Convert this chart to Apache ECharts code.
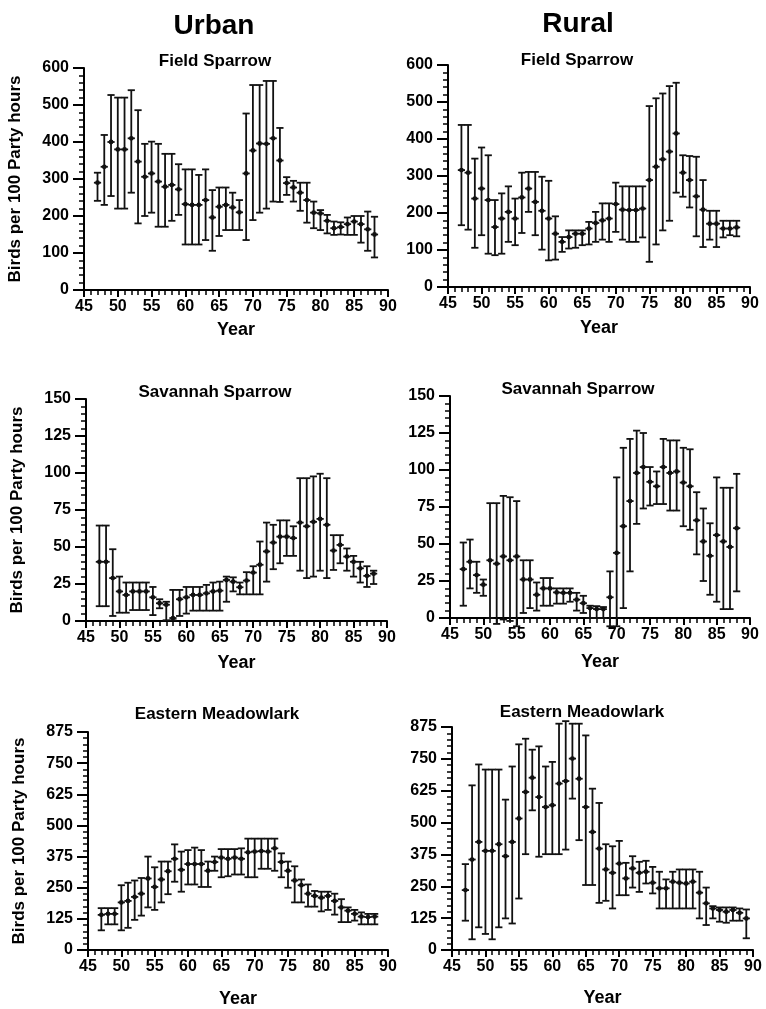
<!DOCTYPE html>
<html>
<head>
<meta charset="utf-8">
<script src="https://cdn.jsdelivr.net/npm/echarts@6/dist/echarts.min.js"></script>
<style>
html,body{margin:0;padding:0;background:#fff;}
#chart{width:766px;height:1009px;}
</style>
</head>
<body>
<div id="chart"></div>
<script>
// ---------- DATA ----------
const yearsA = [47,48,49,50,51,52,53,54,55,56,57,58,59,60,61,62,63,64,65,66,67,68,69,70,71,72,73,74,75,76,77,78,79,80,81,82,83,84,85,86,87,88];
const yearsB = [47,48,49,50,51,52,53,54,55,56,57,58,59,60,61,62,63,64,65,66,67,68,69,70,71,72,73,74,75,76,77,78,79,80,81,82,83,84,85,86,87,88,89];

// Urban Field Sparrow
const urbanFieldMean = [290,333,400,380,380,410,347,306,315,293,279,284,272,232,230,230,243,196,225,230,223,210,315,377,396,395,410,350,289,277,263,243,209,207,187,167,170,178,185,178,164,150];
const urbanFieldLow  = [241,230,254,220,220,263,180,200,209,171,171,187,203,123,123,123,135,106,146,162,162,162,135,189,209,220,239,238,257,239,214,182,167,162,153,149,150,149,149,128,106,88];
const urbanFieldHigh = [317,419,527,520,520,540,486,395,401,395,368,368,340,326,326,311,326,270,277,277,263,243,477,554,554,565,565,438,305,295,290,290,239,216,203,185,183,196,200,200,212,198];

// Rural Field Sparrow
const ruralFieldMean = [316,309,239,266,235,162,185,203,185,242,266,230,206,185,144,122,135,144,144,158,173,180,185,224,209,208,208,212,289,325,345,366,415,309,289,245,209,171,171,158,158,161];
const ruralFieldLow  = [167,155,106,140,90,86,90,122,113,146,203,140,101,72,74,95,104,106,113,115,122,128,122,149,128,122,122,134,68,115,153,179,255,244,215,137,108,128,108,134,140,137];
const ruralFieldHigh = [438,438,347,377,356,235,253,272,239,309,311,311,298,287,191,135,153,153,153,176,203,226,226,282,272,272,272,272,489,510,523,543,552,356,354,352,289,206,206,179,179,179];

// Urban Savannah Sparrow
const urbanSavMean = [40,40,29,20,17.6,20,20,20,16,12,11,2,14.7,16,17.6,17.6,18.7,20,20.5,27.7,26.6,22.8,27.3,32.7,38,47,53,57,57,56,66.5,64,67,69,65,47.6,51.4,43.5,40,35.6,30.5,32];
const urbanSavLow  = [10,10,3.4,5.6,5.6,7.4,7.4,7.4,4,8.6,0.5,0.5,3.4,5,7,7,7,7,7,13,20,18,18,18,18,26.6,35,39,44,44,34,29,30,34,29,34.5,39,34,30,26,23,25];
const urbanSavHigh = [64.5,64.5,48.5,30,26,26,26,26,23,14.7,13,21,21,23,23,23,24.4,26,26.6,30,29.5,26,33,37,53.7,66.5,65,68,68,64,96.5,96.5,97.7,99.5,96.5,58,58,49,44,40,37,34];

// Rural Savannah Sparrow
const ruralSavMean = [33,38,29,22.5,39,36.7,41.6,39,41.6,26,26,15.7,20,20,17.3,17,17,12.4,10,6.7,6,6,14,44,62,79,98,102,92,89,102,98,99,91.5,89,66,51.7,42,56,51.7,48,60.7];
const ruralSavLow  = [8.3,20,17,15,0,-4,-1,-2,-5.6,3.4,6.7,5,8.3,8.3,9.7,9.7,11,5,3.4,0,0,0,-5.6,-5.6,6.7,31.5,63.6,74,76,77,77,72.6,72.6,62,59.6,43,25,15.7,11,6,6,18];
const ruralSavHigh = [51,53,38,26,77.6,77.6,82.5,81.6,79,39,39,24,27,27,20,20,20,17,15,8.3,8,7.4,31.5,95,115,121,126.6,125,102,99,121,120,120,115,114,85,74,64,95,88,88,97.4];

// Urban Eastern Meadowlark
const urbanMeadowMean = [141,145,145,191,197,213,226,287,253,283,316,366,322,345,345,345,318,353,371,366,371,366,392,395,397,395,408,353,318,279,260,226,217,210,217,197,171,158,145,134,132,134];
const urbanMeadowLow  = [79,103,103,79,89,121,138,171,161,191,224,274,234,263,263,253,253,318,292,296,303,303,292,292,326,326,318,292,250,191,191,174,174,155,161,142,112,112,118,103,103,103];
const urbanMeadowHigh = [168,168,168,260,270,279,289,375,332,355,355,424,395,401,411,401,355,375,405,405,405,408,447,447,447,447,447,388,355,336,283,263,237,234,234,226,204,171,161,151,145,145];

// Rural Eastern Meadowlark
const ruralMeadowMean = [235,355,424,389,389,415,368,424,516,620,676,600,561,568,653,663,751,672,561,463,398,316,303,339,281,320,303,307,264,242,242,268,264,261,268,225,183,163,157,150,157,146,124];
const ruralMeadowLow  = [115,42,89,63,42,89,124,104,202,376,548,366,376,376,376,394,594,431,255,255,185,193,163,215,215,245,228,261,222,163,163,163,163,163,163,124,98,124,111,107,115,115,46];
const ruralMeadowHigh = [337,646,728,708,708,708,590,720,807,829,786,799,720,738,888,898,888,888,842,633,577,415,407,428,342,368,346,350,326,307,277,307,316,316,316,307,245,172,167,167,167,163,159];

// Tick / label settings
const xTicks = {min:45, max:90, step:5};
const fieldTicks = {max:600, step:100};
const savTicks = {max:150, step:25};
const meadowTicks = {max:875, step:125};

const columnTitles = ['Urban','Rural'];
const speciesTitles = ['Field Sparrow','Savannah Sparrow','Eastern Meadowlark'];
const yAxisTitle = 'Birds per 100 Party hours';
const xAxisTitle = 'Year';

// ---------- LAYOUT ----------
const FONT = '"Liberation Sans", Arial, Helvetica, sans-serif';
const panels = [
  {grid:{left:84, top:68, width:304, height:222}, years:yearsA, mean:urbanFieldMean, low:urbanFieldLow, high:urbanFieldHigh, ticks:fieldTicks, yName:true, title:speciesTitles[0], tx:210, ty:58, xGap:31},
  {grid:{left:448, top:65, width:302, height:222}, years:yearsA, mean:ruralFieldMean, low:ruralFieldLow, high:ruralFieldHigh, ticks:fieldTicks, yName:false, title:speciesTitles[0], tx:572, ty:57, xGap:32},
  {grid:{left:86, top:399, width:301, height:222}, years:yearsA, mean:urbanSavMean, low:urbanSavLow, high:urbanSavHigh, ticks:savTicks, yName:true, title:speciesTitles[1], tx:210, ty:389, xGap:33},
  {grid:{left:450, top:396, width:300, height:222}, years:yearsA, mean:ruralSavMean, low:ruralSavLow, high:ruralSavHigh, ticks:savTicks, yName:false, title:speciesTitles[1], tx:573, ty:386, xGap:35},
  {grid:{left:88, top:732, width:300, height:221}, years:yearsA, mean:urbanMeadowMean, low:urbanMeadowLow, high:urbanMeadowHigh, ticks:meadowTicks, yName:true, title:speciesTitles[2], tx:212, ty:711, xGap:40},
  {grid:{left:452, top:727, width:301, height:223}, years:yearsB, mean:ruralMeadowMean, low:ruralMeadowLow, high:ruralMeadowHigh, ticks:meadowTicks, yName:false, title:speciesTitles[2], tx:577, ty:709, xGap:39}
];

const INK = '#111';
function renderItem(params, api) {
  const yr = api.value(0);
  const c = api.coord([yr, api.value(1)]);
  const lo = api.coord([yr, api.value(2)]);
  const hi = api.coord([yr, api.value(3)]);
  const hw = 3.6;
  const st = {stroke: INK, lineWidth: 1.8};
  return {type:'group', children:[
    {type:'line', shape:{x1:lo[0], y1:lo[1], x2:hi[0], y2:hi[1]}, style:st},
    {type:'line', shape:{x1:lo[0]-hw, y1:lo[1], x2:lo[0]+hw, y2:lo[1]}, style:st},
    {type:'line', shape:{x1:hi[0]-hw, y1:hi[1], x2:hi[0]+hw, y2:hi[1]}, style:st},
    {type:'line', shape:{x1:c[0]-hw, y1:c[1], x2:c[0]+hw, y2:c[1]}, style:st},
    {type:'circle', shape:{cx:c[0], cy:c[1], r:2.4}, style:{fill:INK}}
  ]};
}

const grids = [], xAxes = [], yAxes = [], series = [], titles = [];
const axisLineStyle = {color:'#000', width:2};
const labelStyle = {color:'#000', fontSize:16, fontWeight:'bold', fontFamily:FONT};

panels.forEach((p, i) => {
  grids.push(Object.assign({containLabel:false}, p.grid));
  xAxes.push({
    type:'value', gridIndex:i, min:xTicks.min, max:xTicks.max, interval:xTicks.step,
    axisLine:{show:true, onZero:false, lineStyle:axisLineStyle},
    axisTick:{show:true, inside:false, length:7, lineStyle:{color:'#000', width:2}},
    minorTick:{show:true, splitNumber:5, length:5, lineStyle:{color:'#000', width:1.5}},
    splitLine:{show:false}, minorSplitLine:{show:false},
    axisLabel:Object.assign({margin:9, showMinLabel:true, showMaxLabel:true}, labelStyle),
    name:xAxisTitle, nameLocation:'middle', nameGap:p.xGap,
    nameTextStyle:{color:'#000', fontSize:18, fontWeight:'bold', fontFamily:FONT}
  });
  yAxes.push({
    type:'value', gridIndex:i, min:0, max:p.ticks.max, interval:p.ticks.step,
    axisLine:{show:true, onZero:false, lineStyle:axisLineStyle},
    axisTick:{show:true, inside:false, length:11, lineStyle:{color:'#000', width:2}},
    minorTick:{show:true, splitNumber:5, length:5, lineStyle:{color:'#000', width:1.5}},
    splitLine:{show:false}, minorSplitLine:{show:false},
    axisLabel:Object.assign({margin:15, showMinLabel:true, showMaxLabel:true}, labelStyle),
    name:p.yName ? yAxisTitle : '', nameLocation:'middle', nameGap:60, nameRotate:90,
    nameTextStyle:{color:'#000', fontSize:17, fontWeight:'bold', fontFamily:FONT}
  });
  series.push({
    type:'custom', xAxisIndex:i, yAxisIndex:i, clip:false, silent:true,
    renderItem:renderItem,
    data:p.years.map((y, k) => [y, p.mean[k], p.low[k], p.high[k]])
  });
  titles.push({
    text:p.title, left:p.tx, top:p.ty - 10, textAlign:'center',
    textStyle:{color:'#000', fontSize:17, fontWeight:'bold', fontFamily:FONT}
  });
});
titles.push({text:columnTitles[0], left:209, top:7, textAlign:'center', textStyle:{color:'#000', fontSize:28, fontWeight:'bold', fontFamily:FONT}});
titles.push({text:columnTitles[1], left:573, top:5, textAlign:'center', textStyle:{color:'#000', fontSize:28, fontWeight:'bold', fontFamily:FONT}});

const chart = echarts.init(document.getElementById('chart'), null, {renderer:'canvas'});
chart.setOption({
  backgroundColor:'#fff',
  animation:false,
  title:titles,
  grid:grids,
  xAxis:xAxes,
  yAxis:yAxes,
  series:series
});
</script>
</body>
</html>
